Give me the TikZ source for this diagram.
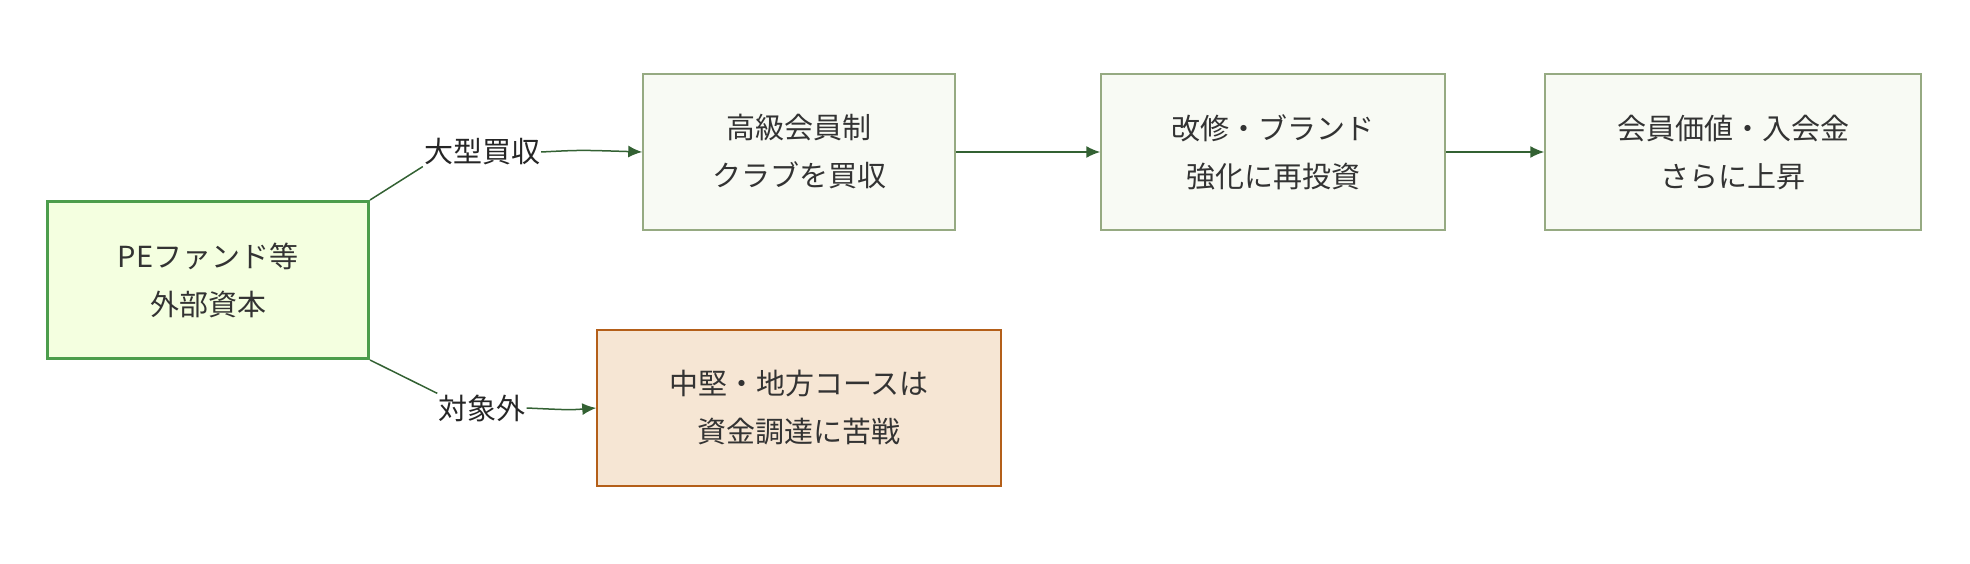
\documentclass[tikz,border=0pt]{standalone}
\usepackage{fontspec}
\setmainfont{Noto Sans CJK JP}
\usetikzlibrary{arrows.meta}
\begin{document}
\begin{tikzpicture}[x=1pt,y=-1pt,
  box/.style={draw=green!35!black!45!gray!80, fill=green!2!gray!5, line width=1.5pt, minimum height=156pt, align=center, font=\fontsize{29}{48}\selectfont, text=black!80},
  lab/.style={font=\fontsize{29}{34}\selectfont, text=black!85, fill=white, inner sep=1pt},
  conn/.style={draw=green!30!black!60!gray, line width=1.5pt},
  arr/.style={conn, -{Latex[length=14pt,width=12pt]}}]
\useasboundingbox (0,0) rectangle (1970,564);
\node[box, draw=green!45!black!70, fill=green!35!yellow!12!white, line width=3pt, minimum width=321pt, minimum height=157pt] (pe) at (208,280) {PEファンド等\\外部資本};
\node[box, draw={rgb,255:red,150;green,170;blue,130}, fill={rgb,255:red,248;green,250;blue,244}, minimum width=312pt] (a) at (799,152) {高級会員制\\クラブを買収};
\node[box, draw={rgb,255:red,150;green,170;blue,130}, fill={rgb,255:red,248;green,250;blue,244}, minimum width=344pt] (b) at (1273,152) {改修・ブランド\\強化に再投資};
\node[box, draw={rgb,255:red,150;green,170;blue,130}, fill={rgb,255:red,248;green,250;blue,244}, minimum width=376pt] (c) at (1733,152) {会員価値・入会金\\さらに上昇};
\node[box, draw={rgb,255:red,180;green,95;blue,25}, fill={rgb,255:red,246;green,230;blue,212}, minimum width=404pt] (d) at (799,408) {中堅・地方コースは\\資金調達に苦戦};
\node[lab] (l1) at (482,152) {大型買収};
\node[lab] (l2) at (482,408) {対象外};
\draw[conn] (pe.north east) -- (l1.south west);
\draw[arr] (l1.east) .. controls (580,150) .. (a.west);
\draw[conn] (pe.south east) -- (l2.north west);
\draw[arr] (l2.east) .. controls (570,410) .. (d.west);
\draw[arr] (a) -- (b);
\draw[arr] (b) -- (c);
\end{tikzpicture}
\end{document}
